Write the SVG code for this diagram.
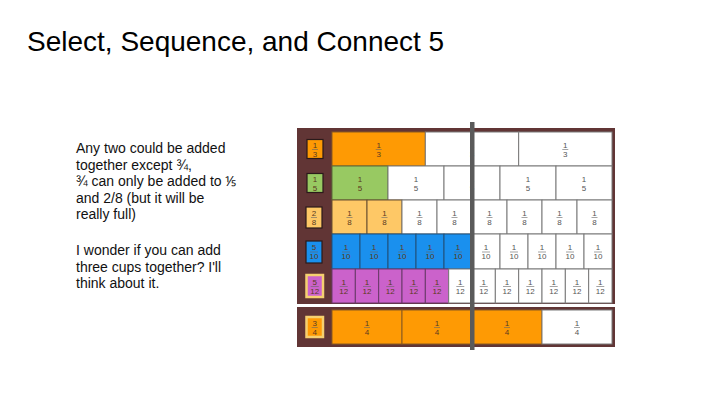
<svg xmlns="http://www.w3.org/2000/svg" width="720" height="405" viewBox="0 0 720 405">
<style>
.title{font-family:"Liberation Sans",Arial,sans-serif;font-size:28px;fill:#000}
.note{font-family:"Liberation Sans",Arial,sans-serif;font-size:14px;fill:#111}
.fr{font-family:"Liberation Sans",Arial,sans-serif;font-size:8px;fill:#555;text-anchor:middle}
.frd{font-family:"Liberation Sans",Arial,sans-serif;font-size:8px;fill:#5a3a20;text-anchor:middle}
.frame{fill:#613535}
.w{fill:#fff;stroke:#7a7a7a;stroke-width:1}
.or{fill:#fe9a04;stroke:#8a5a20;stroke-width:1}
.gr{fill:#98c962;stroke:#5a6a3a;stroke-width:1}
.ye{fill:#fec866;stroke:#6a5030;stroke-width:1}
.bl{fill:#1a90ee;stroke:#20507a;stroke-width:1}
.pu{fill:#cb62cb;stroke:#6a3a6a;stroke-width:1}
.lb{stroke:#2a1a1a;stroke-width:1.2}
.hl{stroke:#f5d070;stroke-width:2.5}
.ln{stroke:#666;stroke-width:0.6}
</style>
<rect width="720" height="405" fill="#fff"/>
<text class="title" x="27" y="51">Select, Sequence, and Connect 5</text>
<g id="note">
<text class="note" x="76" y="153">Any two could be added</text>
<text class="note" x="76" y="169.5">together except ¾,</text>
<text class="note" x="76" y="186">¾ can only be added to ⅕</text>
<text class="note" x="76" y="202.5">and 2/8 (but it will be</text>
<text class="note" x="76" y="219">really full)</text>
<text class="note" x="76" y="255">I wonder if you can add</text>
<text class="note" x="76" y="271.5">three cups together? I'll</text>
<text class="note" x="76" y="288">think about it.</text>
</g>
<g id="frame-top">
<rect class="frame" x="297" y="128" width="318" height="176"/>
</g>
<g id="frame-bottom">
<rect class="frame" x="297" y="307" width="318" height="40"/>
</g>
<g id="row-thirds">
<rect class="or" x="332" y="132" width="93.33" height="34"/>
<rect class="w" x="425.33" y="132" width="93.33" height="34"/>
<rect class="w" x="518.67" y="132" width="93.33" height="34"/>
<text class="frd" x="378.7" y="147.5">1</text><line class="ln" x1="375.7" y1="149.5" x2="381.7" y2="149.5"/><text class="frd" x="378.7" y="156.5">3</text>
<text class="fr" x="472" y="147.5">1</text><text class="fr" x="472" y="156.5">3</text>
<text class="fr" x="565.3" y="147.5">1</text><line class="ln" x1="562.3" y1="149.5" x2="568.3" y2="149.5"/><text class="fr" x="565.3" y="156.5">3</text>
<rect class="or lb" x="307" y="139.5" width="16" height="19"/>
<text class="frd" x="315" y="147.5">1</text><line class="ln" x1="312" y1="149.5" x2="318" y2="149.5"/><text class="frd" x="315" y="156.5">3</text>
</g>
<g id="row-fifths">
<rect class="gr" x="332" y="166" width="56" height="34"/>
<rect class="w" x="388" y="166" width="56" height="34"/>
<rect class="w" x="444" y="166" width="56" height="34"/>
<rect class="w" x="500" y="166" width="56" height="34"/>
<rect class="w" x="556" y="166" width="56" height="34"/>
<text class="frd" x="360" y="181.5">1</text><text class="frd" x="360" y="190.5">5</text>
<text class="fr" x="416" y="181.5">1</text><text class="fr" x="416" y="190.5">5</text>
<text class="fr" x="472" y="181.5">1</text><text class="fr" x="472" y="190.5">5</text>
<text class="fr" x="528" y="181.5">1</text><text class="fr" x="528" y="190.5">5</text>
<text class="fr" x="584" y="181.5">1</text><text class="fr" x="584" y="190.5">5</text>
<rect class="gr lb" x="307" y="173.5" width="16" height="19"/>
<text class="frd" x="315" y="181.5">1</text><text class="frd" x="315" y="190.5">5</text>
</g>
<g id="row-eighths">
<rect class="ye" x="332" y="200" width="35" height="34"/>
<rect class="ye" x="367" y="200" width="35" height="34"/>
<rect class="w" x="402" y="200" width="35" height="34"/>
<rect class="w" x="437" y="200" width="35" height="34"/>
<rect class="w" x="472" y="200" width="35" height="34"/>
<rect class="w" x="507" y="200" width="35" height="34"/>
<rect class="w" x="542" y="200" width="35" height="34"/>
<rect class="w" x="577" y="200" width="35" height="34"/>
<text class="frd" x="349.5" y="215.5">1</text><line class="ln" x1="346.5" y1="217.5" x2="352.5" y2="217.5"/><text class="frd" x="349.5" y="224.5">8</text>
<text class="frd" x="384.5" y="215.5">1</text><line class="ln" x1="381.5" y1="217.5" x2="387.5" y2="217.5"/><text class="frd" x="384.5" y="224.5">8</text>
<text class="fr" x="419.5" y="215.5">1</text><line class="ln" x1="416.5" y1="217.5" x2="422.5" y2="217.5"/><text class="fr" x="419.5" y="224.5">8</text>
<text class="fr" x="454.5" y="215.5">1</text><line class="ln" x1="451.5" y1="217.5" x2="457.5" y2="217.5"/><text class="fr" x="454.5" y="224.5">8</text>
<text class="fr" x="489.5" y="215.5">1</text><line class="ln" x1="486.5" y1="217.5" x2="492.5" y2="217.5"/><text class="fr" x="489.5" y="224.5">8</text>
<text class="fr" x="524.5" y="215.5">1</text><line class="ln" x1="521.5" y1="217.5" x2="527.5" y2="217.5"/><text class="fr" x="524.5" y="224.5">8</text>
<text class="fr" x="559.5" y="215.5">1</text><line class="ln" x1="556.5" y1="217.5" x2="562.5" y2="217.5"/><text class="fr" x="559.5" y="224.5">8</text>
<text class="fr" x="594.5" y="215.5">1</text><line class="ln" x1="591.5" y1="217.5" x2="597.5" y2="217.5"/><text class="fr" x="594.5" y="224.5">8</text>
<rect class="ye lb" x="306" y="207" width="16" height="21"/>
<text class="frd" x="314" y="215.5">2</text><line class="ln" x1="311" y1="217.5" x2="317" y2="217.5"/><text class="frd" x="314" y="224.5">8</text>
</g>
<g id="row-tenths">
<rect class="bl" x="332" y="234" width="28" height="35"/>
<rect class="bl" x="360" y="234" width="28" height="35"/>
<rect class="bl" x="388" y="234" width="28" height="35"/>
<rect class="bl" x="416" y="234" width="28" height="35"/>
<rect class="bl" x="444" y="234" width="28" height="35"/>
<rect class="w" x="472" y="234" width="28" height="35"/>
<rect class="w" x="500" y="234" width="28" height="35"/>
<rect class="w" x="528" y="234" width="28" height="35"/>
<rect class="w" x="556" y="234" width="28" height="35"/>
<rect class="w" x="584" y="234" width="28" height="35"/>
<text class="frd" x="346" y="250">1</text><line class="ln" x1="342" y1="252" x2="350" y2="252"/><text class="frd" x="346" y="259">10</text>
<text class="frd" x="374" y="250">1</text><line class="ln" x1="370" y1="252" x2="378" y2="252"/><text class="frd" x="374" y="259">10</text>
<text class="frd" x="402" y="250">1</text><line class="ln" x1="398" y1="252" x2="406" y2="252"/><text class="frd" x="402" y="259">10</text>
<text class="frd" x="430" y="250">1</text><line class="ln" x1="426" y1="252" x2="434" y2="252"/><text class="frd" x="430" y="259">10</text>
<text class="frd" x="458" y="250">1</text><line class="ln" x1="454" y1="252" x2="462" y2="252"/><text class="frd" x="458" y="259">10</text>
<text class="fr" x="486" y="250">1</text><line class="ln" x1="482" y1="252" x2="490" y2="252"/><text class="fr" x="486" y="259">10</text>
<text class="fr" x="514" y="250">1</text><line class="ln" x1="510" y1="252" x2="518" y2="252"/><text class="fr" x="514" y="259">10</text>
<text class="fr" x="542" y="250">1</text><line class="ln" x1="538" y1="252" x2="546" y2="252"/><text class="fr" x="542" y="259">10</text>
<text class="fr" x="570" y="250">1</text><line class="ln" x1="566" y1="252" x2="574" y2="252"/><text class="fr" x="570" y="259">10</text>
<text class="fr" x="598" y="250">1</text><line class="ln" x1="594" y1="252" x2="602" y2="252"/><text class="fr" x="598" y="259">10</text>
<rect class="bl lb" x="306" y="241" width="16" height="22"/>
<text class="frd" x="314" y="250">5</text><line class="ln" x1="310" y1="252" x2="318" y2="252"/><text class="frd" x="314" y="259">10</text>
</g>
<g id="row-twelfths">
<rect class="pu" x="332" y="269" width="23.33" height="34"/>
<rect class="pu" x="355.33" y="269" width="23.33" height="34"/>
<rect class="pu" x="378.67" y="269" width="23.33" height="34"/>
<rect class="pu" x="402" y="269" width="23.33" height="34"/>
<rect class="pu" x="425.33" y="269" width="23.33" height="34"/>
<rect class="w" x="448.67" y="269" width="23.33" height="34"/>
<rect class="w" x="472" y="269" width="23.33" height="34"/>
<rect class="w" x="495.33" y="269" width="23.33" height="34"/>
<rect class="w" x="518.67" y="269" width="23.33" height="34"/>
<rect class="w" x="542" y="269" width="23.33" height="34"/>
<rect class="w" x="565.33" y="269" width="23.33" height="34"/>
<rect class="w" x="588.67" y="269" width="23.33" height="34"/>
<text class="frd" x="343.7" y="284.5">1</text><line class="ln" x1="339.7" y1="286.5" x2="347.7" y2="286.5"/><text class="frd" x="343.7" y="293.5">12</text>
<text class="frd" x="367" y="284.5">1</text><line class="ln" x1="363" y1="286.5" x2="371" y2="286.5"/><text class="frd" x="367" y="293.5">12</text>
<text class="frd" x="390.3" y="284.5">1</text><line class="ln" x1="386.3" y1="286.5" x2="394.3" y2="286.5"/><text class="frd" x="390.3" y="293.5">12</text>
<text class="frd" x="413.7" y="284.5">1</text><line class="ln" x1="409.7" y1="286.5" x2="417.7" y2="286.5"/><text class="frd" x="413.7" y="293.5">12</text>
<text class="frd" x="437" y="284.5">1</text><line class="ln" x1="433" y1="286.5" x2="441" y2="286.5"/><text class="frd" x="437" y="293.5">12</text>
<text class="fr" x="460.3" y="284.5">1</text><line class="ln" x1="456.3" y1="286.5" x2="464.3" y2="286.5"/><text class="fr" x="460.3" y="293.5">12</text>
<text class="fr" x="483.7" y="284.5">1</text><line class="ln" x1="479.7" y1="286.5" x2="487.7" y2="286.5"/><text class="fr" x="483.7" y="293.5">12</text>
<text class="fr" x="507" y="284.5">1</text><line class="ln" x1="503" y1="286.5" x2="511" y2="286.5"/><text class="fr" x="507" y="293.5">12</text>
<text class="fr" x="530.3" y="284.5">1</text><line class="ln" x1="526.3" y1="286.5" x2="534.3" y2="286.5"/><text class="fr" x="530.3" y="293.5">12</text>
<text class="fr" x="553.7" y="284.5">1</text><line class="ln" x1="549.7" y1="286.5" x2="557.7" y2="286.5"/><text class="fr" x="553.7" y="293.5">12</text>
<text class="fr" x="577" y="284.5">1</text><line class="ln" x1="573" y1="286.5" x2="581" y2="286.5"/><text class="fr" x="577" y="293.5">12</text>
<text class="fr" x="600.3" y="284.5">1</text><line class="ln" x1="596.3" y1="286.5" x2="604.3" y2="286.5"/><text class="fr" x="600.3" y="293.5">12</text>
<rect class="pu hl" x="306.5" y="275" width="16.5" height="22"/>
<text class="frd" x="314.7" y="284.5">5</text><line class="ln" x1="310.7" y1="286.5" x2="318.7" y2="286.5"/><text class="frd" x="314.7" y="293.5">12</text>
</g>
<g id="row-quarters">
<rect class="or" x="332" y="310" width="70" height="34"/>
<rect class="or" x="402" y="310" width="70" height="34"/>
<rect class="or" x="472" y="310" width="70" height="34"/>
<rect class="w" x="542" y="310" width="70" height="34"/>
<text class="frd" x="367" y="325.5">1</text><line class="ln" x1="364" y1="327.5" x2="370" y2="327.5"/><text class="frd" x="367" y="334.5">4</text>
<text class="frd" x="437" y="325.5">1</text><line class="ln" x1="434" y1="327.5" x2="440" y2="327.5"/><text class="frd" x="437" y="334.5">4</text>
<text class="frd" x="507" y="325.5">1</text><line class="ln" x1="504" y1="327.5" x2="510" y2="327.5"/><text class="frd" x="507" y="334.5">4</text>
<text class="fr" x="577" y="325.5">1</text><line class="ln" x1="574" y1="327.5" x2="580" y2="327.5"/><text class="fr" x="577" y="334.5">4</text>
<rect class="or hl" x="306.5" y="317" width="16.5" height="20"/>
<text class="frd" x="314.7" y="325.5">3</text><line class="ln" x1="311.7" y1="327.5" x2="317.7" y2="327.5"/><text class="frd" x="314.7" y="334.5">4</text>
</g>
<g id="marker-line">
<rect x="470" y="122" width="4.5" height="228" fill="#5a5a5a"/>
</g>
</svg>
